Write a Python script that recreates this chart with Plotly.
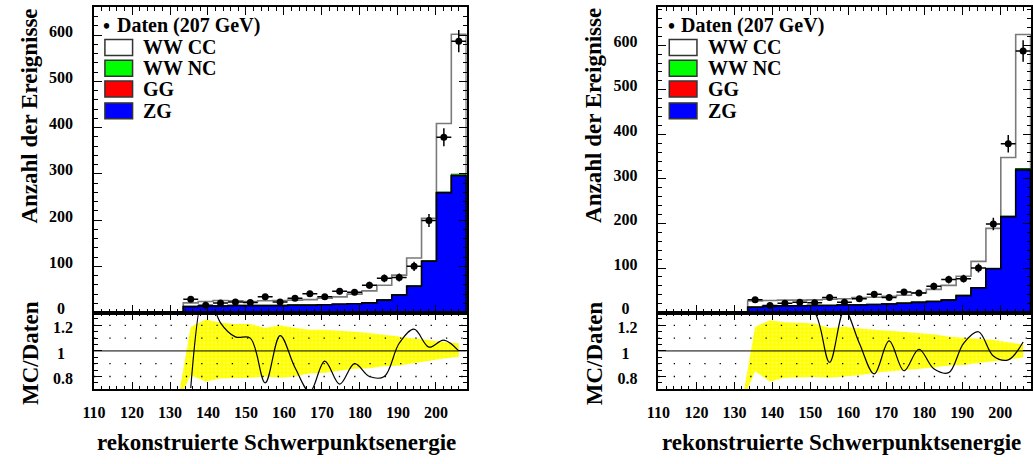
import numpy as np
import plotly.graph_objects as go

W, H = 1034, 464

# ---------------- data ----------------
bin_lo = 133.5
bin_w = 3.92
n_bins = 19

data_counts = [29, 16, 21, 23, 22, 34, 23, 31, 41, 34, 46, 44, 59, 74, 76, 100, 199, 379, 587]
data_err = [5.4, 4.0, 4.6, 4.8, 4.7, 5.8, 4.8, 5.6, 6.4, 5.8, 6.8, 6.6, 7.7, 8.6, 8.7, 10.0, 14.1, 19.5, 24.2]

# left panel MC components
left_zg = [13, 14, 14, 15, 15, 15, 15, 16, 16, 17, 18, 19, 21, 27, 38, 57, 111, 259, 296]
left_gg = [0.2] * 19
left_wwnc = [0.3] * 15 + [0.5, 0.8, 1.5, 3.0]
left_wwcc = [7.5, 9.5, 11.5, 10, 8.5, 10, 10.5, 10.5, 11.5, 13.5, 15.5, 20.5, 25.5, 31.5, 42.5, 60.3, 92, 148.3, 302.8]

# right panel MC components
right_zg = [12, 14, 15, 15, 16, 16, 17, 17, 18, 19, 21, 23, 25, 28, 38, 55.5, 98.5, 215, 320]
right_gg = [0.2] * 19
right_wwnc = [0.3] * 15 + [0.5, 0.8, 1.5, 3.0]
right_wwcc = [13.5, 12.5, 12.5, 12.5, 12.1, 13.5, 13.5, 16.3, 15.9, 17.2, 17.5, 21.1, 26.5, 32.5, 43, 58.8, 89.5, 131.3, 300.8]

# ratio MC/Daten (smooth curve through bin centres)
left_ratio = [0.71, 1.5, 1.22, 1.11, 1.10, 0.75, 1.12, 0.87, 0.68, 0.92, 0.74, 0.90, 0.80, 0.80, 1.06, 1.17, 1.03, 1.085, 1.0]
right_ratio = [1.45, 1.9, 1.32, 1.35, 1.30, 0.91, 1.32, 1.06, 0.82, 1.078, 0.845, 1.013, 0.86, 0.83, 1.06, 1.15, 0.96, 0.93, 1.07]

# yellow error band (start point + bin centres)
band_start_x = 132.0
band_start = 0.6
left_band_hi = [1.19, 1.245, 1.22, 1.21, 1.21, 1.18, 1.20, 1.18, 1.165, 1.165, 1.16, 1.15, 1.14, 1.125, 1.115, 1.10, 1.085, 1.07, 1.06]
left_band_lo = [0.81, 0.76, 0.785, 0.79, 0.79, 0.80, 0.79, 0.80, 0.825, 0.83, 0.845, 0.86, 0.865, 0.88, 0.885, 0.905, 0.92, 0.94, 0.955]
right_band_hi = [1.19, 1.24, 1.225, 1.22, 1.215, 1.18, 1.19, 1.175, 1.165, 1.155, 1.15, 1.14, 1.13, 1.11, 1.105, 1.095, 1.085, 1.065, 1.05]
right_band_lo = [0.84, 0.76, 0.79, 0.79, 0.795, 0.79, 0.80, 0.81, 0.83, 0.835, 0.845, 0.86, 0.87, 0.885, 0.89, 0.905, 0.92, 0.935, 0.948]

top_ymax = {"left": 661, "right": 686}
x_range = [110, 208.1]

legend_labels = ["WW CC", "WW NC", "GG", "ZG"]
legend_colors = ["white", "#00ff00", "#ff0000", "#0000ff"]
data_label = "Daten (207 GeV)"

FONT = "Liberation Serif"

edges = bin_lo + bin_w * np.arange(n_bins + 1)
centers = edges[:-1] + bin_w / 2


def step_xy(vals):
    xs = [edges[0]] + list(edges[:-1]) + [edges[-1], edges[-1]]
    ys = [0] + list(vals) + [vals[-1], 0]
    return xs, ys


fig = go.Figure()

panels = [
    dict(name="left", xoff=0, ax=("x", "y"), rax=("x2", "y2"),
         comps=(left_zg, left_gg, left_wwnc, left_wwcc), ratio=left_ratio,
         hi=left_band_hi, lo=left_band_lo),
    dict(name="right", xoff=571, ax=("x3", "y3"), rax=("x4", "y4"),
         comps=(right_zg, right_gg, right_wwnc, right_wwcc), ratio=right_ratio,
         hi=right_band_hi, lo=right_band_lo),
]

shapes = []
annotations = []
bold = lambda s: dict(family=FONT, size=s, color="black", weight="bold")

for p in panels:
    zg, gg, wwnc, wwcc = [np.array(c, dtype=float) for c in p["comps"]]
    s_zg = zg
    s_gg = s_zg + gg
    s_nc = s_gg + wwnc
    s_tot = s_nc + wwcc
    xa, ya = p["ax"]
    rxa, rya = p["rax"]

    layers = [(s_tot, "white", "#7a7a7a", 1.6),
              (s_nc, "#00ff00", "#006000", 1.2),
              (s_gg, "#ff0000", "#000000", 1.0),
              (s_zg, "#0000ff", "#000000", 1.6)]
    for vals, fc, lc, lw in layers:
        xs, ys = step_xy(vals)
        fig.add_trace(go.Scatter(x=xs, y=ys, mode="lines", line=dict(shape="hv", color=lc, width=lw),
                                 fill="tozeroy", fillcolor=fc, xaxis=xa, yaxis=ya,
                                 showlegend=False, hoverinfo="skip"))

    fig.add_trace(go.Scatter(x=centers, y=data_counts, mode="markers",
                             marker=dict(color="black", size=7),
                             error_y=dict(type="data", array=data_err, color="black", thickness=1.5, width=0),
                             error_x=dict(type="data", array=[bin_w / 2] * n_bins, color="black", thickness=1.5, width=0),
                             xaxis=xa, yaxis=ya, showlegend=False))

    # ratio band
    bx = [band_start_x] + list(centers) + list(centers[::-1]) + [band_start_x]
    by = [band_start] + list(p["hi"]) + list(p["lo"][::-1]) + [band_start]
    fig.add_trace(go.Scatter(x=bx, y=by, mode="lines", fill="toself", fillcolor="#ffff00",
                             fillpattern=dict(shape=".", bgcolor="#ffff00", fgcolor="#ffffb0", size=4, solidity=0.25),
                             line=dict(width=0, color="rgba(0,0,0,0)"), xaxis=rxa, yaxis=rya,
                             showlegend=False, hoverinfo="skip"))
    fig.add_trace(go.Scatter(x=centers, y=p["ratio"], mode="lines",
                             line=dict(shape="spline", smoothing=1.0, color="black", width=1.2),
                             xaxis=rxa, yaxis=rya, showlegend=False, hoverinfo="skip"))

    # reference line at 1 and dotted grid
    shapes.append(dict(type="line", xref=f"{rxa} domain", yref=rya, x0=0, x1=1, y0=1, y1=1,
                       line=dict(color="black", width=1), layer="above"))
    for gy in [0.8, 0.9, 1.1, 1.2]:
        shapes.append(dict(type="line", xref=f"{rxa} domain", yref=rya, x0=0, x1=1, y0=gy, y1=gy,
                           line=dict(color="black", width=1.3, dash="1.3px,14px"), layer="above"))

    # legend
    off = p["xoff"]
    annotations.append(dict(x=(96 + off) / W, y=1 - 26 / H, xref="paper", yref="paper",
                            text="\u2022", showarrow=False, xanchor="center", yanchor="middle",
                            font=bold(20)))
    annotations.append(dict(x=(104 + off) / W, y=1 - 26 / H, xref="paper", yref="paper",
                            text=data_label, showarrow=False, xanchor="left", yanchor="middle",
                            font=bold(20)))
    box_tops = [40, 61, 82, 104]
    for lab, col, bt in zip(legend_labels, legend_colors, box_tops):
        shapes.append(dict(type="rect", xref="paper", yref="paper",
                           x0=(94 + off) / W, x1=(122 + off) / W, y0=1 - (bt + 16) / H, y1=1 - bt / H,
                           fillcolor=col, line=dict(color="#333333", width=1.5), layer="above"))
        annotations.append(dict(x=(131 + off) / W, y=1 - (bt + 8) / H, xref="paper", yref="paper",
                                text=lab, showarrow=False, xanchor="left", yanchor="middle",
                                font=bold(20)))
    # titles
    annotations.append(dict(x=(18 + off) / W, y=1 - 117 / H, xref="paper", yref="paper",
                            text="Anzahl der Ereignisse", showarrow=False, textangle=-90,
                            xanchor="center", yanchor="middle", font=bold(23)))
    annotations.append(dict(x=(18 + off) / W, y=1 - 357 / H, xref="paper", yref="paper",
                            text="MC/Daten", showarrow=False, textangle=-90,
                            xanchor="center", yanchor="middle", font=bold(23)))
    annotations.append(dict(x=(268 + off) / W, y=1 - 447 / H, xref="paper", yref="paper",
                            text="rekonstruierte Schwerpunktsenergie", showarrow=False,
                            xanchor="center", yanchor="middle", font=bold(23)))

tickfont = bold(16)


def xaxis_cfg(dom, anchor, labels, lw):
    return dict(domain=dom, anchor=anchor, range=x_range, showline=True, linecolor="black", linewidth=lw,
                mirror="allticks", ticks="inside", ticklen=8, tickwidth=1.2, tickcolor="black",
                tickmode="linear", tick0=110, dtick=10,
                minor=dict(tickmode="linear", tick0=110, dtick=2, ticks="inside", ticklen=4, tickwidth=1, tickcolor="black"),
                showticklabels=labels, tickfont=tickfont, ticklabelstandoff=8,
                showgrid=False, zeroline=False)


def top_yaxis_cfg(dom, anchor, ymax):
    vals = [0, 100, 200, 300, 400, 500, 600]
    txt = ["0\u2007"] + [str(v) for v in vals[1:]]
    return dict(domain=dom, anchor=anchor, range=[0, ymax], showline=True, linecolor="black", linewidth=1.5,
                mirror="allticks", ticks="inside", ticklen=8, tickwidth=1.2, tickcolor="black",
                tickmode="array", tickvals=vals, ticktext=txt,
                minor=dict(tickmode="linear", tick0=0, dtick=20, ticks="inside", ticklen=4, tickwidth=1, tickcolor="black"),
                tickfont=tickfont, ticklabelstandoff=16, ticklabelshift=-4, showgrid=False, zeroline=False)


def ratio_yaxis_cfg(dom, anchor):
    return dict(domain=dom, anchor=anchor, range=[0.7, 1.3], showline=True, linecolor="black", linewidth=1.5,
                mirror="allticks", ticks="inside", ticklen=8, tickwidth=1.2, tickcolor="black",
                tickmode="array", tickvals=[0.8, 1.0, 1.2], ticktext=["0.8", "1\u2007", "1.2"],
                minor=dict(tickmode="linear", tick0=0.7, dtick=0.05, ticks="inside", ticklen=4, tickwidth=1, tickcolor="black"),
                tickfont=tickfont, ticklabelstandoff=16, ticklabelshift=2, showgrid=False, zeroline=False)


lx = [83 / W, 460 / W]
rx = [654 / W, 1031 / W]
top_dom = [(H - 316) / H, (H - 7) / H]
rat_dom = [(H - 393.5) / H, (H - 316) / H]

fig.update_layout(
    width=W, height=H, margin=dict(l=0, r=0, t=0, b=0),
    paper_bgcolor="white", plot_bgcolor="white", showlegend=False,
    xaxis=xaxis_cfg(lx, "y", False, 2),
    yaxis=top_yaxis_cfg(top_dom, "x", top_ymax["left"]),
    xaxis2=xaxis_cfg(lx, "y2", True, 1.5),
    yaxis2=ratio_yaxis_cfg(rat_dom, "x2"),
    xaxis3=xaxis_cfg(rx, "y3", False, 2),
    yaxis3=top_yaxis_cfg(top_dom, "x3", top_ymax["right"]),
    xaxis4=xaxis_cfg(rx, "y4", True, 1.5),
    yaxis4=ratio_yaxis_cfg(rat_dom, "x4"),
    shapes=shapes, annotations=annotations,
)

fig.write_html("out.html", config={"displayModeBar": False},
               post_script="document.body.style.margin='0px';document.body.style.padding='0px';")
